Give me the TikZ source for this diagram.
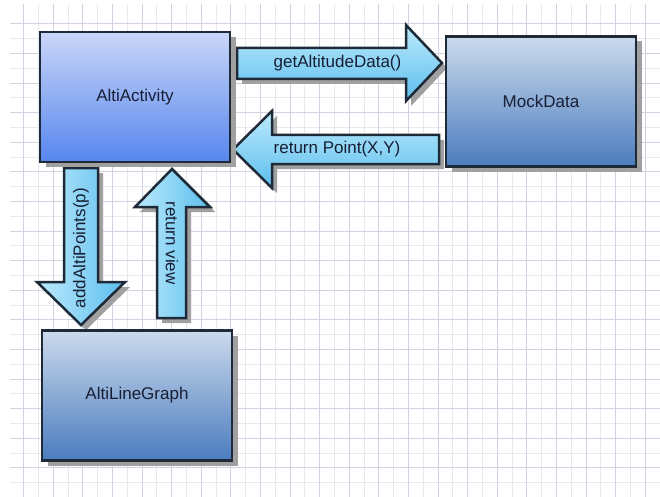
\documentclass[tikz,border=0pt]{standalone}
\usepackage{fontspec}
\setmainfont{Liberation Sans}
\usetikzlibrary{shadows}

\definecolor{gridminor}{RGB}{232,232,241}
\definecolor{gridmajor}{RGB}{210,210,226}
\definecolor{edgec}{RGB}{30,42,56}
\definecolor{shadowc}{RGB}{160,160,160}
\definecolor{txtc}{RGB}{24,30,52}
\definecolor{actTop}{RGB}{202,214,248}
\definecolor{actBot}{RGB}{86,134,238}
\definecolor{clsTop}{RGB}{204,218,236}
\definecolor{clsBot}{RGB}{74,124,190}
\definecolor{arrLight}{RGB}{188,234,252}
\definecolor{arrDark}{RGB}{92,190,238}

\begin{document}
\begin{tikzpicture}[x=1pt,y=-1pt,
  every node/.style={font=\fontsize{17}{20}\selectfont, text=txtc},
  classbox/.style={draw=edgec, line width=2.5pt, rectangle,
    minimum width=190pt, minimum height=130pt,
    drop shadow={shadow xshift=6pt, shadow yshift=-5pt, fill=shadowc, opacity=1}},
  arrshadow/.style={fill=shadowc},
  hbody/.style={draw=edgec, line width=2.5pt, line join=miter, top color=arrLight, bottom color=arrDark},
  vbody/.style={draw=edgec, line width=2.5pt, line join=miter, left color=arrLight, right color=arrDark},
  lbl/.style={inner sep=0pt}
]
\useasboundingbox (0,0) rectangle (660,497);
\fill[white] (0,0) rectangle (660,497);

% background grid, every second line slightly darker
\foreach \k in {1,3,...,43} {
  \draw[gridminor, line width=1pt] ({23.7+14.8*\k},4) -- ({23.7+14.8*\k},497);
}
\foreach \k in {1,3,...,33} {
  \draw[gridminor, line width=1pt] (10,{23.9+14.8*\k}) -- (660,{23.9+14.8*\k});
}
\foreach \k in {0,2,...,42} {
  \draw[gridmajor, line width=1pt] ({23.7+14.8*\k},4) -- ({23.7+14.8*\k},497);
}
\foreach \k in {0,2,...,32} {
  \draw[gridmajor, line width=1pt] (10,{23.9+14.8*\k}) -- (660,{23.9+14.8*\k});
}

% block arrows: shadow first, then the body
\foreach \d/\sty in {5/arrshadow, 0/hbody} {
  \path[\sty, shift={(\d,\d)}] (237,48) -- (406,48) -- (406,25) -- (442,63)
    -- (406,101) -- (406,79) -- (237,79) -- cycle;
  \path[\sty, shift={(\d,\d)}] (439,135) -- (272,135) -- (272,111) -- (233,149.5)
    -- (272,188) -- (272,164) -- (439,164) -- cycle;
}
\foreach \d/\sty in {5/arrshadow, 0/vbody} {
  \path[\sty, shift={(\d,\d)}] (64,168) -- (64,282) -- (37,282) -- (81,325)
    -- (125,282) -- (98,282) -- (98,168) -- cycle;
  \path[\sty, shift={(\d,\d)}] (157,318) -- (157,207) -- (135,207) -- (172,169)
    -- (210,207) -- (186,207) -- (186,318) -- cycle;
}

% arrow labels
\node[lbl] (tget) at (337.5,63) {getAltitudeData()};
\node[lbl] (tret) at (337,149.5) {return Point(X,Y)};
\node[lbl, rotate=90] (tadd) at (81,248) {addAltiPoints(p)};
\node[lbl, rotate=-90] (tview) at (172,243) {return view};

% class boxes
\node[classbox, top color=actTop, bottom color=actBot] (act) at (135,97) {AltiActivity};
\node[classbox, top color=clsTop, bottom color=clsBot] (mock) at (541,101.5) {MockData};
\node[classbox, top color=clsTop, bottom color=clsBot] (graph) at (137,395.5) {AltiLineGraph};
\end{tikzpicture}
\end{document}
